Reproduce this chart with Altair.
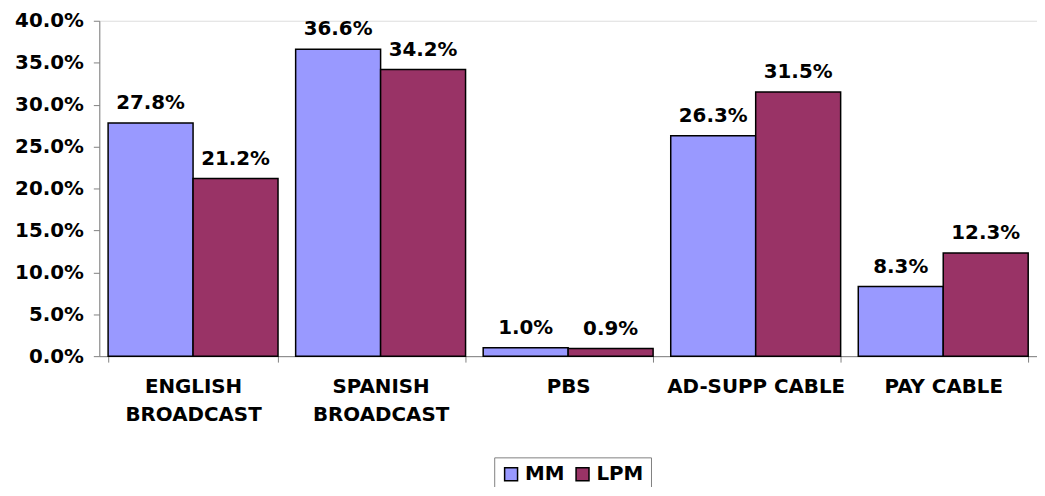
import altair as alt
import pandas as pd

categories = ["ENGLISH BROADCAST", "SPANISH BROADCAST", "PBS", "AD-SUPP CABLE", "PAY CABLE"]
series = ["MM", "LPM"]
mm_values = [27.8, 36.6, 1.0, 26.3, 8.3]
lpm_values = [21.2, 34.2, 0.9, 31.5, 12.3]
colors = ["#9999FF", "#993366"]
y_ticks = [0, 0.05, 0.10, 0.15, 0.20, 0.25, 0.30, 0.35, 0.40]

rows = []
for c, m, l in zip(categories, mm_values, lpm_values):
    rows.append({"cat": c, "series": "MM", "value": m / 100})
    rows.append({"cat": c, "series": "LPM", "value": l / 100})
df = pd.DataFrame(rows)

FONT = "DejaVu Sans"
FS = 20

x_enc = alt.X(
    "cat:N",
    sort=categories,
    title=None,
    scale=alt.Scale(paddingInner=0.094, paddingOuter=0.047),
    axis=alt.Axis(
        labelAngle=0,
        labelFont=FONT,
        labelFontWeight="bold",
        labelFontSize=FS,
        labelColor="black",
        labelExpr="indexof(datum.label, 'BROADCAST') > 0 ? split(datum.label, ' ') : datum.label",
        labelLineHeight=28,
        labelBaseline="top",
        labelPadding=15,
        tickBand="extent",
        tickSize=6,
        tickColor="#808080",
        domainColor="#808080",
        labelLimit=300,
    ),
)
xoff = alt.XOffset("series:N", sort=series, scale=alt.Scale(paddingInner=0, paddingOuter=0))

base = alt.Chart(df)

bars = base.mark_bar(stroke="black", strokeWidth=1.5).encode(
    x=x_enc,
    xOffset=xoff,
    y=alt.Y(
        "value:Q",
        title=None,
        scale=alt.Scale(domain=[0, 0.4], nice=False),
        axis=alt.Axis(
            values=y_ticks,
            format=".1%",
            grid=False,
            labelFont=FONT,
            labelFontWeight="bold",
            labelFontSize=FS,
            labelColor="black",
            labelPadding=10,
            tickSize=6,
            tickColor="#808080",
            domainColor="#808080",
        ),
    ),
    color=alt.Color(
        "series:N",
        sort=series,
        scale=alt.Scale(domain=series, range=colors),
        legend=alt.Legend(
            title=None,
            orient="none",
            direction="horizontal",
            legendX=398,
            legendY=440,
            symbolType="square",
            symbolSize=170,
            symbolStrokeColor="black",
            symbolStrokeWidth=1.5,
            labelFont=FONT,
            labelFontWeight="bold",
            labelFontSize=FS,
            labelColor="black",
            strokeColor="#808080",
            padding=7,
            columnPadding=8,
            labelOffset=4,
        ),
    ),
)

labels = base.mark_text(
    font=FONT, fontWeight="bold", fontSize=FS, baseline="bottom", dy=-10, color="black"
).encode(
    x=alt.X("cat:N", sort=categories),
    xOffset=xoff,
    y="value:Q",
    text=alt.Text("value:Q", format=".1%"),
)

chart = (
    (bars + labels)
    .properties(
        width=945,
        height=338,
        autosize=alt.AutoSizeParams(type="none"),
        padding={"left": 92, "top": 11, "right": 0, "bottom": 130},
    )
    .configure_view(stroke=None)
    .configure(background="white")
)

chart.save("out.html", embed_options={"renderer": "svg", "actions": False})
